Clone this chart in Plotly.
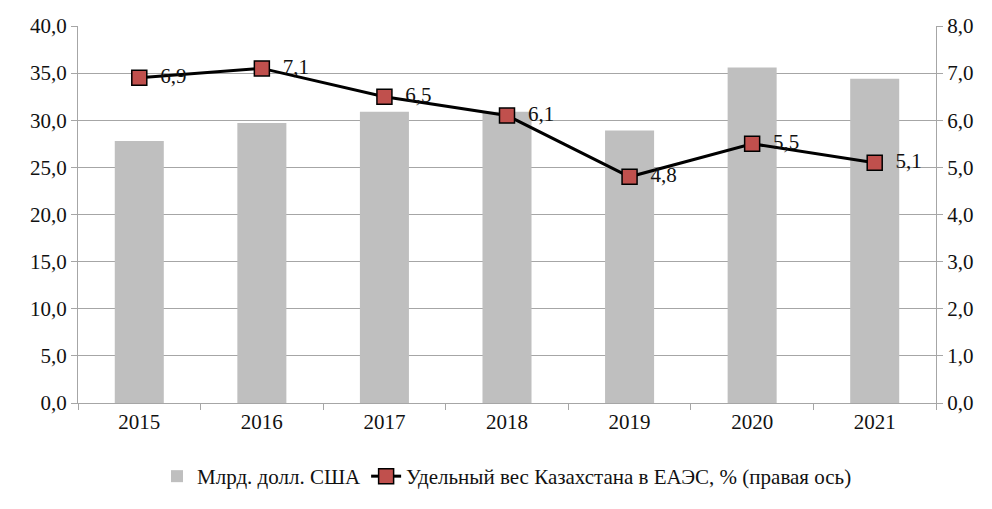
import plotly.graph_objects as go

# Kazakhstan: volume (bln USD) and share in EAEU (%)
years = ["2015", "2016", "2017", "2018", "2019", "2020", "2021"]
volume_bln_usd = [27.8, 29.7, 30.9, 30.9, 28.9, 35.6, 34.4]
share_pct = [6.9, 7.1, 6.5, 6.1, 4.8, 5.5, 5.1]

left_ticks = [0, 5, 10, 15, 20, 25, 30, 35, 40]
right_ticks = [0, 1, 2, 3, 4, 5, 6, 7, 8]

GRID = "#a6a6a6"
TXT = "#111111"


def comma(v):
    return f"{v:.1f}".replace(".", ",")


def serif(size):
    return dict(family="Times New Roman", size=size, color=TXT)


fig = go.Figure()

fig.add_trace(go.Bar(
    x=years, y=volume_bln_usd,
    name="Млрд. долл. США",
    marker=dict(color="#bfbfbf", line=dict(width=0)),
    yaxis="y",
))

fig.add_trace(go.Scatter(
    x=years, y=share_pct,
    name="Удельный вес Казахстана в ЕАЭС, % (правая ось)",
    mode="lines+markers+text",
    line=dict(color="black", width=3),
    marker=dict(symbol="square", size=15, color="#c0504d",
                line=dict(color="black", width=1.5)),
    text=["  " + comma(v) for v in share_pct],
    textposition="middle right",
    textfont=serif(21),
    yaxis="y2",
    cliponaxis=False,
))

fig.update_layout(
    width=992, height=509,
    margin=dict(l=78, r=56, t=26, b=92),
    paper_bgcolor="white", plot_bgcolor="white",
    bargap=0.6,
    showlegend=True,
    legend=dict(
        orientation="h", x=0.5, xanchor="center",
        y=-0.195, yanchor="middle",
        font=serif(21),
        tracegroupgap=0,
    ),
    xaxis=dict(
        type="category", automargin=False,
        showgrid=False,
        showline=True, linecolor=GRID, linewidth=1,
        ticks="outside", tickson="boundaries", ticklen=6, tickcolor=GRID,
        tickfont=serif(21),
    ),
    yaxis=dict(
        range=[0, 40], tickvals=left_ticks,
        ticktext=[comma(v) for v in left_ticks], automargin=False,
        showgrid=True, gridcolor=GRID, gridwidth=1,
        showline=True, linecolor=GRID, linewidth=1,
        ticks="outside", ticklen=6, tickcolor=GRID,
        tickfont=serif(21),
        zeroline=False,
    ),
    yaxis2=dict(
        range=[0, 8], tickvals=right_ticks,
        ticktext=[comma(v) for v in right_ticks], automargin=False,
        overlaying="y", side="right",
        showgrid=False,
        showline=True, linecolor=GRID, linewidth=1,
        ticks="outside", ticklen=6, tickcolor=GRID,
        tickfont=serif(21),
        zeroline=False,
    ),
)

fig.write_html("out.html")
